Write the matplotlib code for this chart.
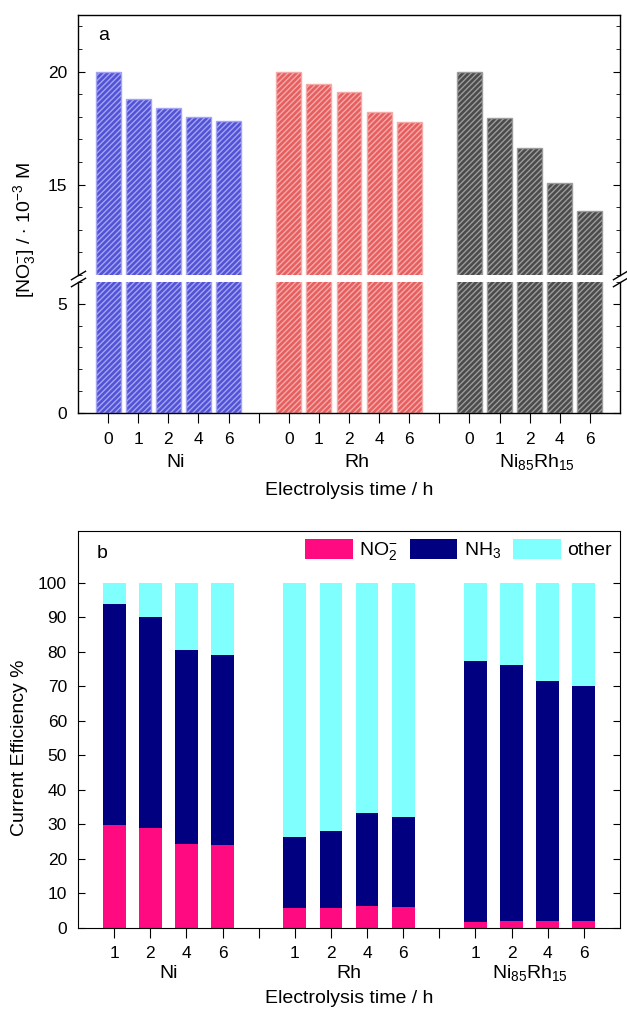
import matplotlib
matplotlib.use('Agg')
import matplotlib.pyplot as plt
from matplotlib.patches import Patch
from matplotlib.ticker import MultipleLocator

plt.rcParams['font.family'] = ['Liberation Sans', 'DejaVu Sans']
plt.rcParams['mathtext.fontset'] = 'custom'
plt.rcParams['mathtext.rm'] = 'Liberation Sans'
plt.rcParams['mathtext.it'] = 'Liberation Sans:italic'
plt.rcParams['hatch.linewidth'] = 1.0

# data
catalysts = ['Ni', 'Rh', 'Ni$_{85}$Rh$_{15}$']
times_a = ['0', '1', '2', '4', '6']
times_b = ['1', '2', '4', '6']

# panel a: nitrate concentration (10^-3 M)
no3_ni = [20.0, 18.8, 18.4, 18.0, 17.8]
no3_rh = [20.0, 19.45, 19.1, 18.2, 17.75]
no3_nirh = [20.0, 17.95, 16.6, 15.05, 13.85]

# panel b: current efficiency (%), cumulative tops
no2_ni = [29.7, 28.9, 24.4, 24.1]
nh3_top_ni = [93.9, 90.2, 80.4, 79.1]
no2_rh = [5.9, 5.9, 6.4, 6.2]
nh3_top_rh = [26.3, 28.1, 33.4, 32.2]
no2_nirh = [1.7, 2.0, 2.0, 2.0]
nh3_top_nirh = [77.2, 76.2, 71.5, 70.0]

faces = ['#5252d6', '#e65e5e', '#4b4b4b']
stripes = ['#a4a4f2', '#f5aaaa', '#9c9c9c']
c_no2, c_nh3, c_other = '#ff0a80', '#000080', '#80ffff'

W, H = 627, 1010
fig = plt.figure(figsize=(W / 100, H / 100), dpi=100)


def frac(x0, y_top, x1, y_bot):
    return [x0 / W, 1 - y_bot / H, (x1 - x0) / W, (y_bot - y_top) / H]


ax_up = fig.add_axes(frac(78, 15, 620, 275))
ax_lo = fig.add_axes(frac(78, 282, 620, 413))
ax_b = fig.add_axes(frac(78, 531, 620, 928))

# ---- panel a ----
no3_all = [no3_ni, no3_rh, no3_nirh]
pos_a = []
for g, vals in enumerate(no3_all):
    xs = [1 + g * 6 + i for i in range(len(vals))]
    pos_a += xs
    for ax in (ax_up, ax_lo):
        ax.bar(xs, vals, width=0.83, color=faces[g], edgecolor=stripes[g],
               hatch='//////', linewidth=1.0)

for ax in (ax_up, ax_lo):
    ax.set_xlim(0, 18)
    ax.tick_params(axis='y', which='both', direction='in', right=True,
                   labelsize=12.5, pad=8)
    ax.tick_params(axis='y', which='major', length=5)
    ax.tick_params(axis='y', which='minor', length=3)
    ax.yaxis.set_minor_locator(MultipleLocator(1))
    for s in ax.spines.values():
        s.set_linewidth(1.0)

ax_up.set_ylim(11, 22.5)
ax_up.yaxis.set_major_locator(MultipleLocator(5))
ax_up.spines['bottom'].set_visible(False)
ax_up.tick_params(axis='x', bottom=False, labelbottom=False)

ax_lo.set_ylim(0, 6)
ax_lo.yaxis.set_major_locator(MultipleLocator(5))
ax_lo.spines['top'].set_visible(False)
ax_lo.set_xticks(pos_a + [6, 12])
ax_lo.set_xticklabels(times_a * 3 + ['', ''])
ax_lo.tick_params(axis='x', direction='out', length=7, labelsize=12.5, pad=7)

# break marks
kw = dict(marker=[(-1, -0.6), (1, 0.6)], markersize=11, linestyle='none',
          color='k', mec='k', mew=1, clip_on=False)
ax_up.plot([0, 1], [0, 0], transform=ax_up.transAxes, **kw)
ax_lo.plot([0, 1], [1, 1], transform=ax_lo.transAxes, **kw)

for g, name in enumerate(catalysts):
    ax_lo.text(3 + g * 6 + 0.25, (413 - 467) / 131, name, fontsize=14,
               ha='center', va='baseline', transform=ax_lo.get_xaxis_transform())
fig.text(349 / W, 1 - 495 / H, 'Electrolysis time / h', fontsize=14,
         ha='center', va='baseline')
fig.text(25 / W, 1 - 230 / H, '[NO$_3^{-}$] / $\\cdot$ 10$^{-3}$ M', fontsize=14,
         rotation=90, ha='center', va='center')
fig.text(104 / W, 1 - 36 / H, 'a', fontsize=14, ha='center', va='center')

# ---- panel b ----
no2_all = [no2_ni, no2_rh, no2_nirh]
nh3_all = [nh3_top_ni, nh3_top_rh, nh3_top_nirh]
pos_b = []
for g in range(3):
    xs = [1 + g * 5 + i for i in range(len(times_b))]
    pos_b += xs
    no2 = no2_all[g]
    nh3 = [t - n for t, n in zip(nh3_all[g], no2)]
    other = [100 - t for t in nh3_all[g]]
    ax_b.bar(xs, no2, width=0.63, color=c_no2, linewidth=0)
    ax_b.bar(xs, nh3, width=0.63, bottom=no2, color=c_nh3, linewidth=0)
    ax_b.bar(xs, other, width=0.63, bottom=nh3_all[g], color=c_other, linewidth=0)

ax_b.set_xlim(0, 15)
ax_b.set_ylim(0, 115)
ax_b.set_yticks(range(0, 101, 10))
ax_b.set_xticks(pos_b + [5, 10])
ax_b.set_xticklabels(times_b * 3 + ['', ''])
ax_b.tick_params(axis='y', direction='in', right=True, length=5, labelsize=12.5, pad=8)
ax_b.tick_params(axis='x', direction='out', length=7, labelsize=12.5, pad=6)

for g, name in enumerate(catalysts):
    ax_b.text(2.5 + g * 5, (928 - 978) / 397, name, fontsize=14,
              ha='center', va='baseline', transform=ax_b.get_xaxis_transform())
fig.text(349 / W, 1 - 1003 / H, 'Electrolysis time / h', fontsize=14,
         ha='center', va='baseline')
fig.text(20 / W, 1 - 748 / H, 'Current Efficiency %', fontsize=14,
         rotation=90, ha='center', va='center')
fig.text(102 / W, 1 - 553 / H, 'b', fontsize=14, ha='center', va='center')

handles = [Patch(facecolor=c_no2), Patch(facecolor=c_nh3), Patch(facecolor=c_other)]
ax_b.legend(handles, ['NO$_2^{-}$', 'NH$_3$', 'other'], loc='upper right',
            bbox_to_anchor=(1.0, 1.0), ncol=3, frameon=False, fontsize=14,
            handlelength=2.45, handleheight=1.2, handletextpad=0.35,
            columnspacing=0.6, borderaxespad=0.2, borderpad=0.2)

fig.savefig('out.png', dpi=100)
